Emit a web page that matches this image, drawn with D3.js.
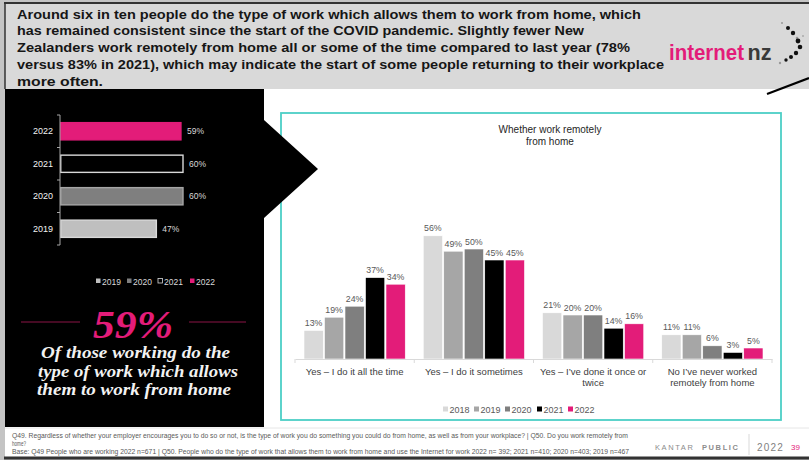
<!DOCTYPE html>
<html>
<head>
<meta charset="utf-8">
<script src="https://cdn.jsdelivr.net/npm/d3@7/dist/d3.min.js"></script>
<style>
  html, body { margin: 0; padding: 0; background: #c8c8c8; }
  svg { display: block; }
  .sans { font-family: "Liberation Sans", Arial, sans-serif; }
  .serif { font-family: "Liberation Serif", "Times New Roman", "DejaVu Serif", serif; font-style: italic; font-weight: bold; }
</style>
</head>
<body>
<svg id="slide" width="809" height="460"></svg>
<script>
// ---- Data ----------------------------------------------------------
const headlineLines = [
  "Around six in ten people do the type of work which allows them to work from home, which",
  "has remained consistent since the start of the COVID pandemic. Slightly fewer New",
  "Zealanders work remotely from home all or some of the time compared to last year (78%",
  "versus 83% in 2021), which may indicate the start of some people returning to their workplace",
  "more often."
];

// Share of workers whose work can be done from home
const wfhYears = ["2022", "2021", "2020", "2019"];
const wfhValues = [59, 60, 60, 47];

// Whether work remotely from home
const remoteCategories = [
  ["Yes \u2013 I do it all the time"],
  ["Yes \u2013 I do it sometimes"],
  ["Yes \u2013 I\u2019ve done it once or", "twice"],
  ["No I\u2019ve never worked", "remotely from home"]
];
const remoteYears = ["2018", "2019", "2020", "2021", "2022"];
const remote2018 = [13, 56, 21, 11];
const remote2019 = [19, 49, 20, 11];
const remote2020 = [24, 50, 20, 6];
const remote2021 = [37, 45, 14, 3];
const remote2022 = [34, 45, 16, 5];

const statValue = "59%";
const statLines = ["Of those working do the", "type of work which allows", "them to work from home"];

const footerLines = [
  "Q49. Regardless of whether your employer encourages you to do so or not, is the type of work you do something you could do from home, as well as from your workplace? | Q50. Do you work remotely from",
  "home?",
  "Base: Q49 People who are working 2022 n=671 | Q50. People who do the type of work that allows them to work from home and use the Internet for work 2022 n= 392; 2021 n=410; 2020 n=403; 2019 n=467"
];

// ---- Palette -------------------------------------------------------
const PINK = "#e31c79";
const yearFill = { "2018": "#d9d9d9", "2019": "#a6a6a6", "2020": "#7f7f7f", "2021": "#000000", "2022": PINK };

const svg = d3.select("#slide");
const root = svg.append("g").attr("class", "sans");

// ---- Slide frame and header ---------------------------------------
root.append("rect").attr("x", 0).attr("y", 0).attr("width", 809).attr("height", 460).attr("fill", "#c4c4c4");
root.append("rect").attr("x", 5).attr("y", 3).attr("width", 804).attr("height", 454).attr("fill", "#ffffff");
root.append("rect").attr("x", 5).attr("y", 3).attr("width", 804).attr("height", 86).attr("fill", "#d9d9d9");
root.append("line").attr("x1", 4).attr("x2", 809).attr("y1", 3).attr("y2", 3).attr("stroke", "#333").attr("stroke-width", 2);
root.append("line").attr("x1", 4).attr("x2", 809).attr("y1", 458).attr("y2", 458).attr("stroke", "#333").attr("stroke-width", 3);
root.append("line").attr("x1", 5).attr("x2", 5).attr("y1", 3).attr("y2", 89).attr("stroke", "#333").attr("stroke-width", 1.5);

const headlineEnds = [641, 584, 630, 664, 103];
root.append("g").selectAll("text").data(headlineLines).join("text")
  .attr("x", 17)
  .attr("y", (d, i) => 18.5 + i * 16.8)
  .attr("font-size", 13.5).attr("font-weight", "bold").attr("fill", "#161616")
  .attr("textLength", (d, i) => headlineEnds[i] - 17)
  .attr("lengthAdjust", "spacingAndGlyphs")
  .text(d => d);

// internetnz wordmark
const logo = root.append("text").attr("x", 669).attr("y", 60).attr("font-size", 22).attr("font-weight", "bold");
logo.append("tspan").attr("fill", PINK).attr("textLength", 75).attr("lengthAdjust", "spacingAndGlyphs").text("internet");
logo.append("tspan").attr("dx", 3.5).attr("fill", "#3a3a3a").attr("textLength", 24).attr("lengthAdjust", "spacingAndGlyphs").text("nz");
const logoDots = [
  [782, 23, 1, "#999"], [788, 28, 2, "#111"], [793, 33, 2.2, "#111"], [797, 38, 1.3, "#999"],
  [798, 41, 2.4, "#111"], [800, 47, 2.3, "#111"], [796, 53, 2.2, "#111"], [791, 57, 2, "#111"],
  [786, 60, 1.7, "#111"], [780, 63, 1.2, "#999"], [803, 36, 1, "#aaa"]
];
root.append("g").selectAll("circle").data(logoDots).join("circle")
  .attr("cx", d => d[0]).attr("cy", d => d[1]).attr("r", d => d[2]).attr("fill", d => d[3]);
root.append("line").attr("x1", 767).attr("y1", 94).attr("x2", 809).attr("y2", 78)
  .attr("stroke", "#000").attr("stroke-width", 2.2);

// ---- Right chart: framed box --------------------------------------
root.append("rect").attr("x", 281).attr("y", 113).attr("width", 500).attr("height", 307)
  .attr("fill", "#fff").attr("stroke", "#4ccfc6").attr("stroke-width", 1.8);

// ---- Left black panel with arrow ----------------------------------
root.append("path")
  .attr("d", "M5,89 L264,89 L264,120 L318,169 L264,218 L264,427 L5,427 Z")
  .attr("fill", "#000");

// ---- Left chart: horizontal bars ----------------------------------
const ly = d3.scaleBand().domain(wfhYears).range([115, 245]).paddingInner(0.47).paddingOuter(0.235);
const lx = d3.scaleLinear().domain([0, 100]).range([60, 265]);
const leftBarStyle = {
  "2022": { fill: PINK, stroke: PINK },
  "2021": { fill: "#000", stroke: "#d9d9d9" },
  "2020": { fill: "#7f7f7f", stroke: "#a6a6a6" },
  "2019": { fill: "#bfbfbf", stroke: "#d9d9d9" }
};
const leftData = wfhYears.map((y, i) => ({ year: y, value: wfhValues[i] }));
const lg = root.append("g");
lg.selectAll("rect").data(leftData).join("rect")
  .attr("x", lx(0) + 0.75)
  .attr("y", d => ly(d.year))
  .attr("width", d => lx(d.value) - lx(0) - 0.75)
  .attr("height", ly.bandwidth())
  .attr("fill", d => leftBarStyle[d.year].fill)
  .attr("stroke", d => leftBarStyle[d.year].stroke)
  .attr("stroke-width", 1.4);
lg.selectAll("text.val").data(leftData).join("text").attr("class", "val")
  .attr("x", d => lx(d.value) + 6)
  .attr("y", d => ly(d.year) + ly.bandwidth() / 2 + 3)
  .attr("font-size", 8.5).attr("fill", "#d9d9d9")
  .text(d => d.value + "%");
// category axis
const lAxis = root.append("g").attr("transform", `translate(${lx(0)},0)`)
  .call(d3.axisLeft(ly).tickSize(0).tickPadding(7));
lAxis.attr("font-family", null).attr("font-size", null);
lAxis.select(".domain").attr("stroke", "#a6a6a6").attr("d", "M0,115V245");
lAxis.selectAll("text").attr("font-size", 9).attr("fill", "#f2f2f2");
const lEdges = d3.range(wfhYears.length + 1).map(i => 115 + i * (130 / wfhYears.length));
root.append("g").selectAll("line").data(lEdges).join("line")
  .attr("x1", lx(0) - 3).attr("x2", lx(0)).attr("y1", d => d).attr("y2", d => d)
  .attr("stroke", "#a6a6a6");
// legend (bottom to top order)
const leftLegend = ["2019", "2020", "2021", "2022"];
const leftLegendX = [96, 127, 158, 190];
const llg = root.append("g");
leftLegend.forEach((y, i) => {
  const s = leftBarStyle[y];
  llg.append("rect").attr("x", leftLegendX[i]).attr("y", 278.5).attr("width", 4.5).attr("height", 4.5)
    .attr("fill", y === "2021" ? "#000" : s.fill).attr("stroke", y === "2021" ? "#d9d9d9" : "none").attr("stroke-width", 0.8);
  llg.append("text").attr("x", leftLegendX[i] + 6).attr("y", 284.5)
    .attr("font-size", 8.5).attr("fill", "#d9d9d9").text(y);
});

// ---- Big statistic --------------------------------------------------
root.append("line").attr("x1", 21).attr("x2", 80).attr("y1", 322).attr("y2", 322).attr("stroke", "#8c1447").attr("stroke-width", 1);
root.append("line").attr("x1", 189).attr("x2", 246).attr("y1", 322).attr("y2", 322).attr("stroke", "#8c1447").attr("stroke-width", 1);
root.append("text").attr("class", "serif").attr("x", 93).attr("y", 338)
  .attr("font-size", 40).attr("fill", PINK)
  .attr("textLength", 80).attr("lengthAdjust", "spacingAndGlyphs")
  .text(statValue);
const statSpans = [[41, 230], [38, 238], [37, 231]];
root.append("g").selectAll("text").data(statLines).join("text")
  .attr("class", "serif")
  .attr("x", (d, i) => statSpans[i][0])
  .attr("y", (d, i) => 358 + i * 18.6)
  .attr("font-size", 17).attr("fill", "#f2f2f2")
  .attr("textLength", (d, i) => statSpans[i][1] - statSpans[i][0])
  .attr("lengthAdjust", "spacingAndGlyphs")
  .text(d => d);

// ---- Right chart: grouped columns ----------------------------------
const x0 = d3.scaleBand().domain(d3.range(remoteCategories.length)).range([295, 772]);
const x1 = d3.scaleBand().domain(remoteYears).range([9, x0.bandwidth() - 9]).paddingInner(0.06);
const y = d3.scaleLinear().domain([0, 60]).range([359, 227]);
const remoteSeries = { "2018": remote2018, "2019": remote2019, "2020": remote2020, "2021": remote2021, "2022": remote2022 };

root.append("text").attr("x", 550).attr("y", 132.5).attr("text-anchor", "middle")
  .attr("font-size", 10).attr("fill", "#262626").text("Whether work remotely");
root.append("text").attr("x", 550).attr("y", 144.5).attr("text-anchor", "middle")
  .attr("font-size", 10).attr("fill", "#262626").text("from home");

const groups = root.append("g").selectAll("g").data(remoteCategories).join("g")
  .attr("transform", (d, i) => `translate(${x0(i)},0)`);
groups.each(function (cat, ci) {
  const g = d3.select(this);
  const rows = remoteYears.map(yr => ({ year: yr, value: remoteSeries[yr][ci] }));
  g.selectAll("rect").data(rows).join("rect")
    .attr("x", d => x1(d.year))
    .attr("y", d => y(d.value))
    .attr("width", x1.bandwidth())
    .attr("height", d => y(0) - y(d.value))
    .attr("fill", d => yearFill[d.year])
    .attr("stroke", "#fff").attr("stroke-width", 0.6);
  g.selectAll("text").data(rows).join("text")
    .attr("x", d => x1(d.year) + x1.bandwidth() / 2)
    .attr("y", d => y(d.value) - 4.5)
    .attr("text-anchor", "middle").attr("font-size", 8.8).attr("fill", "#595959")
    .text(d => d.value + "%");
});

// category axis
const xAxis = root.append("g").attr("transform", `translate(0,${y(0)})`)
  .call(d3.axisBottom(x0).tickSize(0).tickFormat(() => ""));
xAxis.select(".domain").attr("stroke", "#d9d9d9");
const bandEdges = d3.range(remoteCategories.length + 1).map(i => 295 + i * x0.step());
root.append("g").selectAll("line").data(bandEdges).join("line")
  .attr("x1", d => d).attr("x2", d => d).attr("y1", y(0)).attr("y2", y(0) + 4)
  .attr("stroke", "#d9d9d9");
const catLabels = root.append("g");
remoteCategories.forEach((lines, i) => {
  lines.forEach((ln, j) => {
    catLabels.append("text")
      .attr("x", x0(i) + x0.bandwidth() / 2)
      .attr("y", 374.5 + j * 11)
      .attr("text-anchor", "middle").attr("font-size", 9.5).attr("fill", "#404040")
      .text(ln);
  });
});

// legend
const rLegendX = [443, 474, 505, 537, 568];
const rlg = root.append("g");
remoteYears.forEach((yr, i) => {
  rlg.append("rect").attr("x", rLegendX[i]).attr("y", 406.5).attr("width", 5).attr("height", 5).attr("fill", yearFill[yr]);
  rlg.append("text").attr("x", rLegendX[i] + 6.5).attr("y", 412.5)
    .attr("font-size", 9).attr("fill", "#595959").text(yr);
});

// ---- Footer ---------------------------------------------------------
root.append("line").attr("x1", 5).attr("x2", 809).attr("y1", 428).attr("y2", 428).attr("stroke", "#e6e6e6");
const footerY = [438, 445.5, 454];
const footerEnds = [628, 26, 629];
root.append("g").selectAll("text").data(footerLines).join("text")
  .attr("x", 12).attr("y", (d, i) => footerY[i])
  .attr("font-size", 6.3).attr("fill", "#595959")
  .attr("textLength", (d, i) => footerEnds[i] - 12)
  .attr("lengthAdjust", "spacingAndGlyphs")
  .text(d => d);
root.append("text").attr("x", 655).attr("y", 450).attr("font-size", 7.5).attr("fill", "#8c8c8c")
  .attr("letter-spacing", 1.6).text("KANTAR");
root.append("text").attr("x", 702).attr("y", 450).attr("font-size", 7.5).attr("font-weight", "bold").attr("fill", "#8c8c8c")
  .attr("letter-spacing", 1.6).text("PUBLIC");
root.append("line").attr("x1", 749).attr("x2", 749).attr("y1", 434).attr("y2", 455).attr("stroke", "#d9d9d9");
root.append("text").attr("x", 757).attr("y", 451).attr("font-size", 10).attr("fill", "#7f7f7f")
  .attr("letter-spacing", 1.2).text("2022");
root.append("text").attr("x", 791).attr("y", 450).attr("font-size", 8).attr("fill", PINK).text("39");
</script>
</body>
</html>
